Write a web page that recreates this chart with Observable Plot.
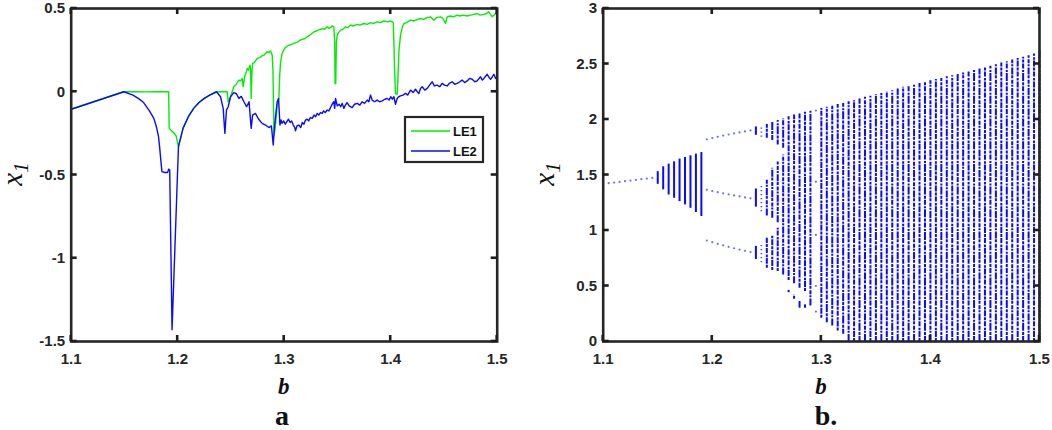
<!DOCTYPE html>
<html><head><meta charset="utf-8">
<script src="https://cdn.jsdelivr.net/npm/d3@7"></script>
<script src="https://cdn.jsdelivr.net/npm/@observablehq/plot@0.6"></script>
<style>
body{margin:0;background:#fff;}
#wrap{position:relative;width:1052px;height:430px;overflow:hidden;background:#fff;}
</style></head><body><div id="wrap"></div>
<script>
// ---------- Panel a: Lyapunov exponents ----------
const le1B = [1.100,1.1494,1.16,1.17,1.18,1.1915,1.192,1.1935,1.196,1.1985,1.2007,1.205,1.21,1.215,1.22,1.225,1.23,1.2365,1.2465,1.2474,1.2496,1.2527,1.255,1.2574,1.259,1.2606,1.2615,1.2628,1.264,1.2653,1.2665,1.2678,1.2684,1.269,1.2697,1.2703,1.272,1.2746,1.277,1.279,1.281,1.2825,1.284,1.2855,1.2872,1.2887,1.2895,1.290,1.2905,1.2915,1.2935,1.295,1.2958,1.2965,1.298,1.2995,1.301,1.303,1.305,1.307,1.309,1.311,1.313,1.315,1.317,1.3195,1.3216,1.324,1.326,1.328,1.330,1.332,1.334,1.336,1.338,1.3404,1.342,1.3435,1.345,1.3466,1.3474,1.3478,1.3484,1.349,1.3498,1.351,1.353,1.355,1.3576,1.36,1.362,1.365,1.3686,1.371,1.3748,1.378,1.381,1.384,1.3873,1.39,1.3936,1.397,1.400,1.4024,1.403,1.4036,1.4045,1.4061,1.4068,1.4077,1.4092,1.411,1.4124,1.415,1.4186,1.422,1.425,1.428,1.431,1.434,1.4374,1.4405,1.443,1.4468,1.449,1.4515,1.453,1.456,1.459,1.4624,1.465,1.468,1.4718,1.475,1.478,1.4812,1.484,1.4875,1.49,1.492,1.4953,1.498,1.5];
const le1V = [-0.105,0,0.001,-0.001,0.001,0,-0.22,-0.23,-0.245,-0.265,-0.33,-0.22,-0.15,-0.10,-0.065,-0.04,-0.02,0,0,-0.06,-0.03,0.03,0.045,0.07,0.065,0.08,0.03,0.09,0.11,0.14,0.13,0.16,0.14,-0.04,0.12,0.17,0.175,0.2,0.205,0.215,0.22,0.23,0.24,0.235,0.245,0.22,0.12,-0.1,-0.26,-0.22,-0.08,-0.04,0.1,0.17,0.23,0.25,0.265,0.275,0.28,0.285,0.29,0.295,0.3,0.31,0.315,0.32,0.33,0.34,0.35,0.36,0.365,0.37,0.375,0.38,0.375,0.39,0.38,0.385,0.395,0.39,0.3,0.05,0.05,0.3,0.34,0.355,0.37,0.375,0.39,0.385,0.4,0.395,0.405,0.4,0.41,0.405,0.415,0.41,0.42,0.415,0.425,0.42,0.425,0.415,0.3,0.14,-0.01,-0.015,0.08,0.24,0.34,0.39,0.41,0.415,0.43,0.425,0.435,0.44,0.435,0.445,0.45,0.43,0.445,0.45,0.44,0.41,0.45,0.455,0.45,0.46,0.455,0.46,0.455,0.46,0.465,0.47,0.46,0.465,0.47,0.48,0.45,0.465,0.48];

const le2B = [1.100,1.1494,1.158,1.163,1.168,1.173,1.1776,1.180,1.182,1.183,1.184,1.1852,1.188,1.1905,1.1915,1.1925,1.1947,1.2007,1.205,1.21,1.215,1.22,1.225,1.23,1.2365,1.2402,1.2427,1.2443,1.2458,1.2474,1.2496,1.2527,1.2552,1.2574,1.2597,1.2622,1.2647,1.267,1.269,1.2703,1.273,1.276,1.2793,1.2825,1.2856,1.288,1.2897,1.291,1.2934,1.2947,1.296,1.297,1.298,1.2995,1.301,1.3025,1.304,1.3055,1.307,1.3085,1.310,1.3106,1.312,1.3138,1.3155,1.317,1.3185,1.320,1.3216,1.323,1.3245,1.3263,1.328,1.3295,1.331,1.3325,1.334,1.3357,1.337,1.3385,1.3404,1.342,1.3435,1.345,1.3466,1.3474,1.3482,1.3498,1.3515,1.353,1.3545,1.356,1.3575,1.359,1.361,1.3638,1.366,1.3686,1.371,1.3732,1.3755,1.378,1.3795,1.381,1.3826,1.385,1.3873,1.3895,1.392,1.3945,1.3967,1.3985,1.4,1.4015,1.403,1.4045,1.4061,1.4075,1.4092,1.4115,1.414,1.416,1.4186,1.421,1.4233,1.425,1.4264,1.428,1.4296,1.432,1.4343,1.4365,1.439,1.441,1.4436,1.446,1.4483,1.4505,1.453,1.455,1.4577,1.46,1.4624,1.465,1.467,1.4695,1.4718,1.474,1.4765,1.479,1.4812,1.4843,1.486,1.4875,1.4906,1.4925,1.4937,1.4955,1.4969,1.4985,1.5];
const le2V = [-0.105,0,-0.02,-0.04,-0.065,-0.11,-0.16,-0.21,-0.27,-0.33,-0.40,-0.48,-0.485,-0.485,-0.465,-0.47,-1.43,-0.33,-0.22,-0.15,-0.10,-0.065,-0.04,-0.02,0,-0.03,-0.10,-0.25,-0.11,-0.09,-0.03,-0.005,-0.012,-0.04,-0.028,-0.06,-0.09,-0.06,-0.22,-0.14,-0.13,-0.165,-0.19,-0.2,-0.215,-0.205,-0.32,-0.2,-0.06,-0.04,-0.2,-0.17,-0.19,-0.175,-0.195,-0.18,-0.165,-0.185,-0.175,-0.2,-0.215,-0.235,-0.205,-0.2,-0.215,-0.185,-0.195,-0.17,-0.165,-0.175,-0.155,-0.16,-0.14,-0.15,-0.13,-0.14,-0.125,-0.13,-0.115,-0.125,-0.11,-0.115,-0.095,-0.075,-0.06,-0.1,-0.04,-0.085,-0.075,-0.09,-0.07,-0.1,-0.08,-0.065,-0.085,-0.095,-0.075,-0.07,-0.08,-0.06,-0.07,-0.05,-0.06,-0.02,-0.05,-0.06,-0.05,-0.06,-0.055,-0.045,-0.04,-0.05,-0.03,-0.045,-0.03,-0.075,-0.04,-0.03,-0.025,-0.02,-0.01,-0.02,0.01,-0.005,0.015,0,-0.01,0.02,0.03,0.01,0.02,0.04,0.06,0.035,0.04,0.03,0.05,0.04,0.035,0.05,0.06,0.045,0.05,0.06,0.07,0.055,0.065,0.08,0.075,0.06,0.065,0.09,0.07,0.08,0.105,0.085,0.075,0.09,0.105,0.08,0.09];

const xTicks = [1.1, 1.2, 1.3, 1.4, 1.5];
const yTicksA = [-1.5, -1, -0.5, 0, 0.5];
const yTicksB = [0, 0.5, 1, 1.5, 2, 2.5, 3];
const seriesNames = ["LE1", "LE2"];

// ---------- Panel b: bifurcation diagram ----------
const p1B = [1.100,1.105,1.110,1.115,1.120,1.125,1.130,1.135,1.140,1.145];
const p1X = [1.42,1.426,1.432,1.438,1.444,1.45,1.456,1.462,1.468,1.474];
const p3B = [1.195,1.200,1.205,1.210,1.215,1.220,1.225,1.230,1.235];
const p3Top = [1.822,1.833,1.844,1.855,1.865,1.875,1.884,1.893,1.902];
const p3Mid = [1.366,1.355,1.345,1.335,1.325,1.316,1.307,1.298,1.29];
const p3Bot = [0.91,0.895,0.88,0.866,0.853,0.84,0.828,0.817,0.806];
const p5B = 1.295;
const p5X = [2.08,1.44,0.96,0.5,0.27];

// quasi-periodic bands (dense columns)
const qpB  = [1.150,1.155,1.160,1.165,1.170,1.175,1.180,1.185,1.190,1.240,1.240,1.240];
const qpLo = [1.416,1.366,1.32,1.29,1.26,1.231,1.20,1.162,1.126,1.858,1.21,0.738];
const qpHi = [1.53,1.574,1.598,1.619,1.643,1.658,1.673,1.688,1.702,1.933,1.374,0.857];
// sparse column
const spB  = [1.245,1.245,1.245];
const spLo = [1.84,1.17,0.71];
const spHi = [1.94,1.41,0.89];
// chaotic columns
const chB  = [1.250,1.250,1.250,1.255,1.255,1.255,1.260,1.260,1.260,1.265,1.265,1.270,1.270,1.275,1.275,1.280,1.280,1.285,1.285,1.290,1.300,1.305,1.310,1.315,1.320,1.325,1.330,1.335,1.340,1.345,1.350,1.355,1.360,1.365,1.370,1.375,1.380,1.385,1.390,1.395,1.400,1.405,1.410,1.415,1.420,1.425,1.430,1.435,1.440,1.445,1.450,1.455,1.460,1.465,1.470,1.475,1.480,1.485,1.490,1.495,1.500];
const chLo = [1.83,1.13,0.66,1.81,1.11,0.64,1.77,1.07,0.63,1.74,0.6,0.55,0.44,0.52,0.38,0.48,0.30,0.45,0.30,0.32,0.21,0.17,0.14,0.095,0.065,0,0,0,0,0,0,0,0,0,0,0,0,0,0,0,0,0,0,0,0,0,0,0,0,0,0,0,0,0,0,0,0,0,0,0,0];
const chHi = [1.955,1.46,0.93,1.975,1.56,0.96,1.99,1.62,1.02,2.005,1.68,2.025,0.46,2.04,0.42,2.05,0.36,2.065,0.33,2.08,2.10,2.11,2.12,2.135,2.145,2.16,2.17,2.185,2.20,2.21,2.225,2.235,2.25,2.26,2.275,2.29,2.30,2.315,2.325,2.34,2.35,2.36,2.37,2.385,2.395,2.405,2.42,2.43,2.445,2.455,2.47,2.48,2.495,2.51,2.52,2.535,2.55,2.56,2.575,2.59,2.62];

// ---------- build tables ----------
const le1 = le1B.map((b,i)=>({b, v:le1V[i], s:seriesNames[0]}));
const le2 = le2B.map((b,i)=>({b, v:le2V[i], s:seriesNames[1]}));
const p1 = p1B.map((b,i)=>({b, x:p1X[i]}));
const p3 = p3B.flatMap((b,i)=>[{b,x:p3Top[i]},{b,x:p3Mid[i]},{b,x:p3Bot[i]}]);
const p5 = p5X.map(x=>({b:p5B, x}));
const qp = qpB.map((b,i)=>({b, lo:qpLo[i], hi:qpHi[i]}));
const sp = spB.map((b,i)=>({b, lo:spLo[i], hi:spHi[i]}));
const ch = chB.map((b,i)=>({b, lo:chLo[i], hi:chHi[i], k:i}));

const INK = "#262626";
const GREEN = "#00ee00", BLUE = "#0a0aff";
const H = 372, TOP = 8, BOT = 341;
const styleCommon = {fontFamily:"'Liberation Sans', Arial, sans-serif", fontSize:"15px", fontWeight:"bold", color:INK, background:"transparent", overflow:"visible"};

function labelAxes(yt){
  return [
    Plot.axisX({ticks:xTicks, anchor:"bottom", tickSize:0, tickPadding:12, tickFormat:d=>d.toFixed(1), label:null, fill:INK}),
    Plot.axisY({ticks:yt, anchor:"left", tickSize:0, tickPadding:6, tickFormat:d=>String(d), label:null, fill:INK})
  ];
}

const plotA = Plot.plot({
  width:526, height:H,
  marginLeft:70.7, marginRight:29.3, marginTop:TOP, marginBottom:H-BOT,
  x:{domain:[1.1,1.5]}, y:{domain:[-1.5,0.5]},
  style:styleCommon,
  marks:[
    Plot.line(le1, {x:"b", y:"v", stroke:GREEN, strokeWidth:1.4, curve:"linear"}),
    Plot.line(le2, {x:"b", y:"v", stroke:BLUE, strokeWidth:1.4, curve:"linear"}),
    ...labelAxes(yTicksA),
    Plot.frame({stroke:INK, strokeWidth:2.6})
  ]
});

const dash = ["5,1,3,1.2,8,1,2,1.5", "7,1.2,2,1,4,1.5,3,0.8", "3,1,6,0.8,2.5,1.5,5,1"];
const plotB = Plot.plot({
  width:526, height:H,
  marginLeft:76.7, marginRight:13, marginTop:TOP, marginBottom:H-BOT,
  x:{domain:[1.1,1.5]}, y:{domain:[0,3]},
  style:styleCommon,
  marks:[
    Plot.dot(p1, {x:"b", y:"x", r:1.1, fill:"#4a4aff", stroke:null, fillOpacity:0.8}),
    Plot.dot(p3, {x:"b", y:"x", r:1.1, fill:"#4a4aff", stroke:null, fillOpacity:0.8}),
    Plot.dot(p5, {x:"b", y:"x", r:1.1, fill:"#4a4aff", stroke:null, fillOpacity:0.8}),
    Plot.ruleX(qp, {x:"b", y1:"lo", y2:"hi", stroke:BLUE, strokeWidth:2}),
    Plot.ruleX(sp, {x:"b", y1:"lo", y2:"hi", stroke:"#4a4aff", strokeWidth:1.6, strokeDasharray:"1.2,2.8"}),
    ...dash.map((d,j)=>Plot.ruleX(ch, {filter:r=>r.k%3===j, x:"b", y1:"lo", y2:"hi", stroke:BLUE, strokeWidth:2, strokeDasharray:d})),
    ...labelAxes(yTicksB),
    Plot.frame({stroke:INK, strokeWidth:2.6})
  ]
});

const wrap = document.getElementById("wrap");
[[plotA,0],[plotB,526]].forEach(([p,l])=>{p.style.position="absolute"; p.style.left=l+"px"; p.style.top="0px"; wrap.appendChild(p);});

// ---------- overlay: inner ticks, axis titles, captions, legend ----------
const ov = d3.select(wrap).append("svg").attr("width",1052).attr("height",430)
  .style("position","absolute").style("left","0px").style("top","0px");
// inner (MATLAB-style) ticks on all four sides, placed with each plot's own scales
function ticksFor(plot, off, yt){
  const sx = plot.scale("x"), sy = plot.scale("y");
  const [x0, x1] = sx.range, [y0, y1] = sy.range; // y0 = bottom, y1 = top
  const L = 6, g = ov.append("g");
  const seg = (a,b,c,d)=>g.append("line").attr("x1",a).attr("y1",b).attr("x2",c).attr("y2",d)
    .attr("stroke","#1e1e1e").attr("stroke-width",2.6);
  xTicks.forEach(t=>{
    const x = off + sx.apply(t);
    seg(x, y0, x, y0-L);
    seg(x, y1, x, y1+L);
  });
  yt.forEach(t=>{
    const y = sy.apply(t);
    seg(off+x0, y, off+x0+L, y);
    seg(off+x1, y, off+x1-L, y);
  });
}
ticksFor(plotA, 0, yTicksA);
ticksFor(plotB, 526, yTicksB);

const serif = "'Liberation Serif','Times New Roman',serif";
function xlab(x){ ov.append("text").attr("x",x).attr("y",394).attr("text-anchor","middle")
  .attr("font-family",serif).attr("font-style","italic").attr("font-weight","bold").attr("font-size",23).attr("fill","#111").text("b"); }
function ylab(x){ const t = ov.append("text").attr("transform",`translate(${x},174) rotate(-90)`).attr("text-anchor","middle")
  .attr("font-family",serif).attr("font-style","italic").attr("font-size",29).attr("fill","#111");
  t.append("tspan").text("x"); t.append("tspan").attr("dy",6).attr("font-size",21).text("1"); }
xlab(283.7); xlab(820.9);
ylab(22); ylab(554);
ov.append("text").attr("x",282).attr("y",425).attr("text-anchor","middle").attr("font-family",serif)
  .attr("font-weight","bold").attr("font-size",28).attr("fill","#111").text("a");
ov.append("text").attr("x",826).attr("y",425).attr("text-anchor","middle").attr("font-family",serif)
  .attr("font-weight","bold").attr("font-size",28).attr("fill","#111").text("b.");
// legend
const lg = ov.append("g");
lg.append("rect").attr("x",405).attr("y",117).attr("width",78).attr("height",45).attr("fill","#fff").attr("stroke",INK).attr("stroke-width",2.2);
[[GREEN,131,seriesNames[0]],[BLUE,151,seriesNames[1]]].forEach(([c,y,t])=>{
  lg.append("line").attr("x1",411).attr("x2",450).attr("y1",y).attr("y2",y).attr("stroke",c).attr("stroke-width",1.5);
  lg.append("text").attr("x",453).attr("y",y+4.6).attr("font-family","'Liberation Sans',Arial,sans-serif").attr("font-weight","bold").attr("font-size",13).attr("fill","#111").text(t);
});
</script>
</body></html>
